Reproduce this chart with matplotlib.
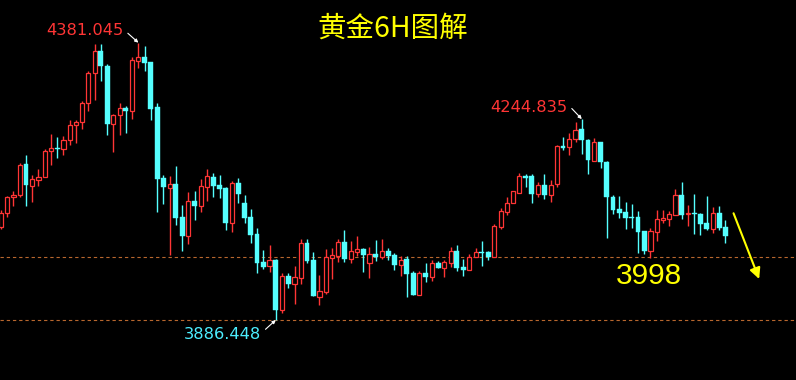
import matplotlib
matplotlib.use("Agg")
import matplotlib.pyplot as plt
import numpy as np

# ---- data (gold, 6H candles) ----
opens = [4052.3, 4076.8, 4105.3, 4109.4, 4164.7, 4126.0, 4136.7, 4142.0, 4187.3, 4193.2,
         4190.9, 4208.0, 4233.7, 4239.1, 4273.0, 4326.5, 4365.7, 4338.9, 4236.6, 4252.6,
         4264.6, 4259.8, 4348.9, 4355.0, 4346.6, 4266.4, 4139.7, 4122.4, 4129.0, 4070.2,
         4036.8, 4098.2, 4090.3, 4124.2, 4141.5, 4127.2, 4121.9, 4060.0, 4130.8, 4095.7,
         4070.7, 4039.8, 3989.9, 3983.3, 3993.5, 3904.8, 3964.9, 3951.2, 3961.9, 4023.8,
         3993.5, 3928.0, 3936.9, 3997.6, 4000.6, 4025.6, 3995.8, 4008.3, 4013.1, 3988.6,
         4004.2, 3998.3, 4009.5, 4002.4, 3984.6, 3995.3, 3970.8, 3931.0, 3970.3, 3963.2,
         3988.1, 3979.2, 3988.6, 4009.5, 3981.0, 3976.2, 3998.8, 4007.7, 4007.7, 3998.3,
         4052.9, 4079.6, 4094.6, 4113.5, 4142.8, 4142.8, 4111.7, 4126.7, 4109.9, 4128.5,
         4196.3, 4194.5, 4208.7, 4226.6, 4207.0, 4169.5, 4203.4, 4167.7, 4105.3, 4084.4,
         4079.1, 4070.2, 4070.2, 4045.2, 4009.5, 4043.9, 4064.8, 4066.6, 4074.3, 4109.4,
         4075.0, 4077.3, 4075.5, 4059.5, 4048.8, 4077.3, 4052.3]
highs = [4082.6, 4108.1, 4116.0, 4166.5, 4180.7, 4145.6, 4155.8, 4192.0, 4218.2, 4212.9,
         4214.6, 4243.2, 4243.7, 4277.1, 4330.0, 4378.7, 4378.7, 4343.0, 4253.9, 4273.0,
         4268.1, 4355.0, 4381.045, 4375.2, 4346.6, 4273.5, 4145.1, 4143.3, 4161.1, 4091.6,
         4114.7, 4116.5, 4137.9, 4155.8, 4148.6, 4145.1, 4123.7, 4134.4, 4139.7, 4109.4,
         4084.4, 4050.0, 4011.3, 4020.2, 3995.3, 3969.8, 3969.8, 3982.8, 4030.9, 4030.9,
         4007.7, 3966.7, 4013.1, 4014.9, 4030.9, 4047.0, 4027.4, 4036.3, 4014.9, 4016.6,
         4029.1, 4030.9, 4014.9, 4005.4, 4001.1, 4000.6, 3973.3, 3973.8, 3988.1, 3993.5,
         3991.7, 3993.5, 4016.6, 4020.2, 3995.3, 4004.2, 4014.9, 4027.4, 4009.5, 4057.7,
         4086.2, 4105.3, 4116.0, 4148.6, 4146.9, 4146.9, 4132.6, 4146.9, 4135.6, 4198.0,
         4212.9, 4219.4, 4239.1, 4244.835, 4208.7, 4210.5, 4203.4, 4170.6, 4108.9, 4107.6,
         4096.9, 4093.3, 4080.9, 4045.2, 4050.5, 4082.6, 4082.6, 4080.9, 4120.1, 4132.6,
         4091.6, 4111.2, 4077.3, 4107.6, 4088.0, 4089.8, 4064.8]
lows = [4048.8, 4070.7, 4090.3, 4105.8, 4090.3, 4097.5, 4126.0, 4142.0, 4162.9, 4175.9,
        4181.3, 4199.1, 4202.7, 4227.6, 4259.2, 4279.4, 4313.3, 4217.0, 4186.6, 4217.0,
        4220.5, 4245.5, 4336.4, 4331.1, 4243.2, 4079.6, 4093.9, 4002.4, 4055.9, 4010.1,
        4022.5, 4064.8, 4079.6, 4099.2, 4106.4, 4104.0, 4047.0, 4043.9, 4095.7, 4058.9,
        4024.3, 3970.8, 3977.4, 3972.6, 3886.448, 3899.5, 3944.1, 3915.5, 3951.2, 3988.6,
        3929.3, 3913.7, 3933.3, 3959.6, 3990.4, 3990.4, 3988.6, 4000.6, 3972.6, 3961.9,
        3992.2, 3994.7, 3993.5, 3975.6, 3964.9, 3927.5, 3931.0, 3931.0, 3954.2, 3956.0,
        3979.2, 3963.2, 3981.0, 3973.8, 3964.9, 3976.2, 3998.8, 3982.8, 3992.9, 3998.3,
        4049.3, 4074.3, 4094.6, 4113.5, 4123.1, 4095.7, 4106.4, 4102.8, 4097.5, 4123.1,
        4189.7, 4180.2, 4203.4, 4183.1, 4146.3, 4169.5, 4158.1, 4032.2, 4075.0, 4068.9,
        4048.8, 4050.5, 4006.5, 4004.2, 3997.6, 4027.4, 4059.5, 4054.1, 4074.3, 4066.6,
        4054.1, 4039.8, 4038.1, 4047.0, 4041.6, 4047.0, 4023.8]
closes = [4077.3, 4105.3, 4109.4, 4162.9, 4127.2, 4137.9, 4141.5, 4187.3, 4193.2, 4190.9,
          4207.0, 4233.7, 4239.1, 4273.0, 4326.5, 4365.7, 4340.0, 4236.6, 4251.6, 4264.0,
          4259.8, 4349.6, 4355.0, 4345.4, 4262.8, 4138.5, 4124.2, 4129.0, 4068.9, 4036.8,
          4098.2, 4089.8, 4125.5, 4143.3, 4125.5, 4120.1, 4060.0, 4130.8, 4111.7, 4068.9,
          4038.6, 3988.6, 3981.0, 3993.5, 3904.3, 3964.9, 3950.7, 3963.2, 4023.8, 3992.2,
          3929.3, 3937.6, 3998.3, 4001.9, 4025.6, 3995.8, 4009.5, 4013.1, 4002.4, 4004.2,
          3998.3, 4009.5, 4001.1, 3984.6, 3993.5, 3968.5, 3931.0, 3970.3, 3963.2, 3988.1,
          3979.2, 3989.9, 4009.5, 3979.2, 3975.6, 3998.8, 4007.7, 4005.9, 3999.4, 4054.1,
          4080.3, 4094.6, 4116.0, 4142.8, 4139.7, 4111.7, 4126.7, 4109.9, 4126.7, 4196.3,
          4193.2, 4208.7, 4224.8, 4207.0, 4171.3, 4203.4, 4167.7, 4105.3, 4082.1, 4077.8,
          4068.9, 4068.9, 4043.4, 4009.5, 4045.2, 4066.6, 4068.4, 4075.5, 4109.4, 4074.3,
          4077.3, 4075.5, 4057.7, 4048.8, 4077.3, 4050.5, 4036.3]

high_label = "4381.045"
mid_label = "4244.835"
low_label = "3886.448"
target_label = "3998"
title_text = "黄金6H图解"
level_lines = [3998.0, 3886.448]
target_arrow = [(117.3, 4076.8), (121.4, 3959.6)]

UP = "#ff3535"
DOWN = "#55ffff"

fig = plt.figure(figsize=(7.96, 3.80), dpi=100, facecolor="black")
ax = fig.add_axes([0, 0, 1, 1], facecolor="black")

o = np.array(opens); h = np.array(highs); l = np.array(lows); c = np.array(closes)
x = np.arange(len(o))
up = c >= o

# wicks
ax.vlines(x[up], l[up], h[up], color=UP, lw=1.0, zorder=2)
ax.vlines(x[~up], l[~up], h[~up], color=DOWN, lw=1.0, zorder=2)

# bodies
bot = np.minimum(o, c)
hgt = np.maximum(np.abs(c - o), 0.6)
ax.bar(x[up], hgt[up], bottom=bot[up], width=0.66, facecolor="black",
       edgecolor=UP, linewidth=0.9, zorder=3)
ax.bar(x[~up], hgt[~up], bottom=bot[~up], width=0.78, facecolor=DOWN,
       edgecolor=DOWN, linewidth=0.3, zorder=3)

# level lines
for lv in level_lines:
    ax.axhline(lv, color="#b8672e", lw=0.8, linestyle=(0, (3.0, 2.6)), zorder=1)

# annotations
lab_font = dict(family="DejaVu Sans", fontsize=11.7)
i_hi = int(np.argmax(h)); i_lo = int(np.argmin(l)); i_mid = 93

ax.annotate("", xy=(i_hi, h[i_hi]), xytext=(-7.6, 6.8), textcoords="offset points",
            arrowprops=dict(arrowstyle="-|>", color="white", lw=0.8, mutation_scale=5,
                            shrinkA=0, shrinkB=0))
ax.annotate(high_label, xy=(i_hi, h[i_hi]), xytext=(-38.4, 8.6), textcoords="offset points",
            color=UP, ha="center", va="center", **lab_font)

ax.annotate("", xy=(i_mid, h[i_mid]), xytext=(-7.2, 7.6), textcoords="offset points",
            arrowprops=dict(arrowstyle="-|>", color="white", lw=0.8, mutation_scale=5,
                            shrinkA=0, shrinkB=0))
ax.annotate(mid_label, xy=(i_mid, h[i_mid]), xytext=(-38.4, 8.6), textcoords="offset points",
            color=UP, ha="center", va="center", **lab_font)

ax.annotate("", xy=(i_lo, l[i_lo]), xytext=(-7.4, -6.7), textcoords="offset points",
            arrowprops=dict(arrowstyle="-|>", color="white", lw=0.8, mutation_scale=5,
                            shrinkA=0, shrinkB=0))
ax.annotate(low_label, xy=(i_lo, l[i_lo]), xytext=(-38.2, -10.3), textcoords="offset points",
            color="#4ceeff", ha="center", va="center", **lab_font)

ax.text(103.8, 3965.0, target_label, color="#ffff00", fontsize=21.5,
        family="Liberation Sans", ha="center", va="center")

ax.annotate("", xy=target_arrow[1], xytext=target_arrow[0],
            arrowprops=dict(arrowstyle="-|>", color="#ffff00", lw=1.5, mutation_scale=16,
                            shrinkA=0, shrinkB=0))

ax.text(0.4935, 0.924, title_text, transform=ax.transAxes, color="#ffff00",
        fontsize=20.5, family=["Noto Sans CJK SC", "DejaVu Sans"],
        ha="center", va="center")

ax.set_xlim(-0.16, 127.3)
ax.set_ylim(4457.2 - 1.7836 * 380, 4457.2)
ax.set_axis_off()

fig.savefig("out.png", dpi=100, facecolor="black")
